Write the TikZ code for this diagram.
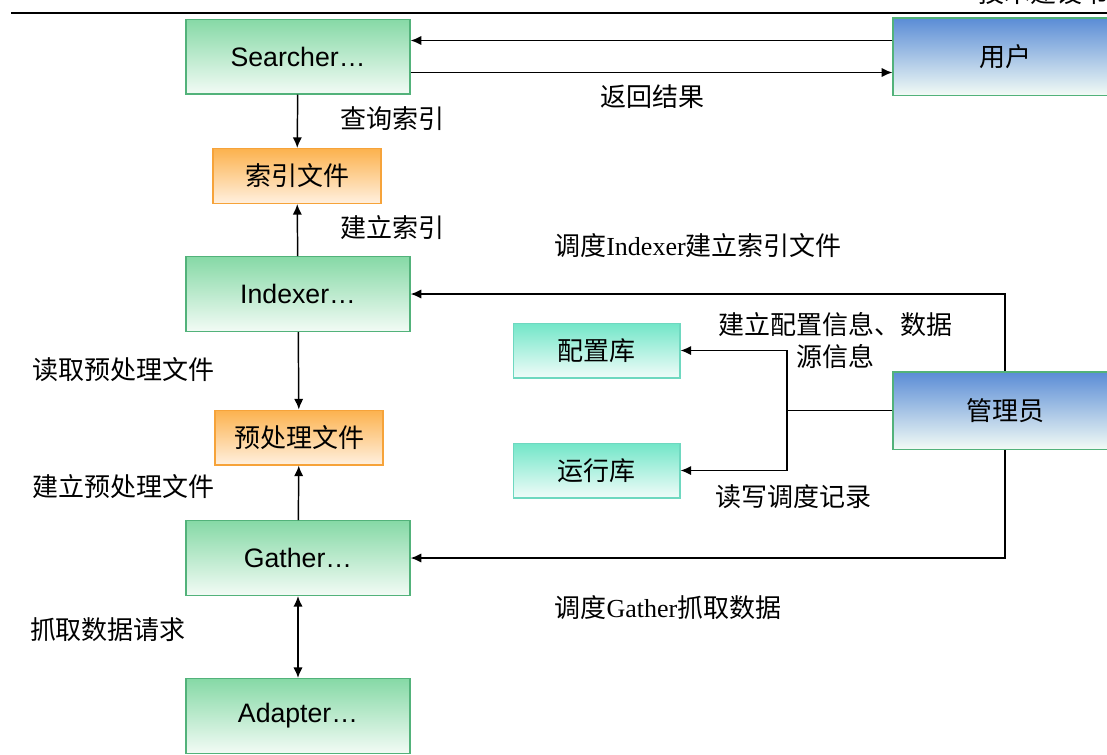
\documentclass[tikz,border=0pt]{standalone}
\usepackage{fontspec}
\setmainfont{Liberation Serif}
\newfontfamily\cjk{Noto Sans CJK SC}
\newfontfamily\boxfont{Liberation Sans}
\usetikzlibrary{arrows.meta,positioning}
\tikzset{>={Latex[width=7pt,length=8pt]}}

\definecolor{proctop}{HTML}{86D9A6}
\definecolor{procbot}{HTML}{F2FBF5}
\definecolor{procline}{HTML}{52B27A}
\definecolor{filetop}{HTML}{FCB24E}
\definecolor{filebot}{HTML}{FFF0DF}
\definecolor{fileline}{HTML}{F6A33A}
\definecolor{dbtop}{HTML}{72E6C8}
\definecolor{dbbot}{HTML}{F0FCF9}
\definecolor{dbline}{HTML}{6ED8C0}
\definecolor{roletop}{HTML}{5A8CD6}

\tikzset{
  box/.style={draw, line width=1pt, inner sep=0pt, align=center,
    font=\fontsize{20}{24}\selectfont\boxfont},
  cjkbox/.style={font=\fontsize{19.5}{24}\selectfont\cjk},
  procbox/.style={box, draw=procline, top color=proctop, bottom color=procbot,
    minimum width=168pt, minimum height=56pt},
  filebox/.style={box, cjkbox, draw=fileline, top color=filetop, bottom color=filebot,
    minimum width=126pt, minimum height=41pt},
  dbbox/.style={box, cjkbox, draw=dbline, top color=dbtop, bottom color=dbbot,
    minimum width=125pt, minimum height=41pt},
  rolebox/.style={box, cjkbox, draw=procline, top color=roletop, bottom color=procbot,
    minimum width=168pt, minimum height=58pt},
  lbl/.style={font=\fontsize{19.5}{24}\selectfont\cjk, inner sep=0pt, align=center},
  link/.style={line width=1.1pt}
}

\begin{document}
\begin{tikzpicture}[x=0.75pt, y=-0.75pt]
  \clip (0,0) rectangle (1107,754);

  % page header
  \node[lbl, anchor=south west] (head) at (978,5) {技术建设书};
  \draw[line width=2pt] (11,13) -- (1107,13);

  % left column
  \node[procbox] (searcher) at (298,56.5) {Searcher…};
  \node[filebox] (idxfile) at (297,176) {索引文件};
  \node[procbox] (indexer) at (298,294) {Indexer…};
  \node[filebox] (prefile) at (299,437.5) {预处理文件};
  \node[procbox] (gather) at (298,558) {Gather…};
  \node[procbox] (adapter) at (298,716) {Adapter…};

  % right side
  \node[rolebox] (user) at (1005,56.5) {用户};
  \node[rolebox] (admin) at (1005,410.5) {管理员};
  \node[dbbox] (config) at (596.5,350.5) {配置库};
  \node[dbbox] (runtime) at (596.5,470.5) {运行库};

  % user <-> searcher
  \draw[link,->] ([yshift=12pt]user.west) -- ([yshift=12pt]searcher.east);
  \draw[link,->] ([yshift=-12pt]searcher.east) -- ([yshift=-12pt]user.west);
  \node[lbl] (lresult) at (652,97) {返回结果};

  % main chain
  \draw[link,->] (searcher) -- (idxfile);
  \node[lbl] (lquery) at (392,119) {查询索引};
  \draw[link,->] (indexer) -- (idxfile);
  \node[lbl] (lbuild) at (392,228) {建立索引};
  \draw[link,->] (indexer) -- (prefile);
  \node[lbl] (lread) at (123,370) {读取预处理文件};
  \draw[link,->] (gather) -- (prefile);
  \node[lbl] (lpre) at (123,487) {建立预处理文件};
  \draw[link,<->] (gather) -- (adapter);
  \node[lbl] (lfetch) at (108,630) {抓取数据请求};

  % admin schedules
  \draw[link,->] (admin.north) |- (indexer.east);
  \node[lbl] (lsched1) at (698,246) {调度{\rmfamily Indexer}建立索引文件};
  \draw[link,->] (admin.south) |- (gather.east);
  \node[lbl] (lsched2) at (668,608) {调度{\rmfamily Gather}抓取数据};

  \coordinate (split) at (787,410.5);
  \draw[link] (admin.west) -- (split);
  \draw[link,->] (split) |- (config.east);
  \draw[link,->] (split) |- (runtime.east);
  \node[lbl] (lconf) at (835,341) {建立配置信息、数据\\源信息};
  \node[lbl] (lrw) at (793,497) {读写调度记录};
\end{tikzpicture}
\end{document}
